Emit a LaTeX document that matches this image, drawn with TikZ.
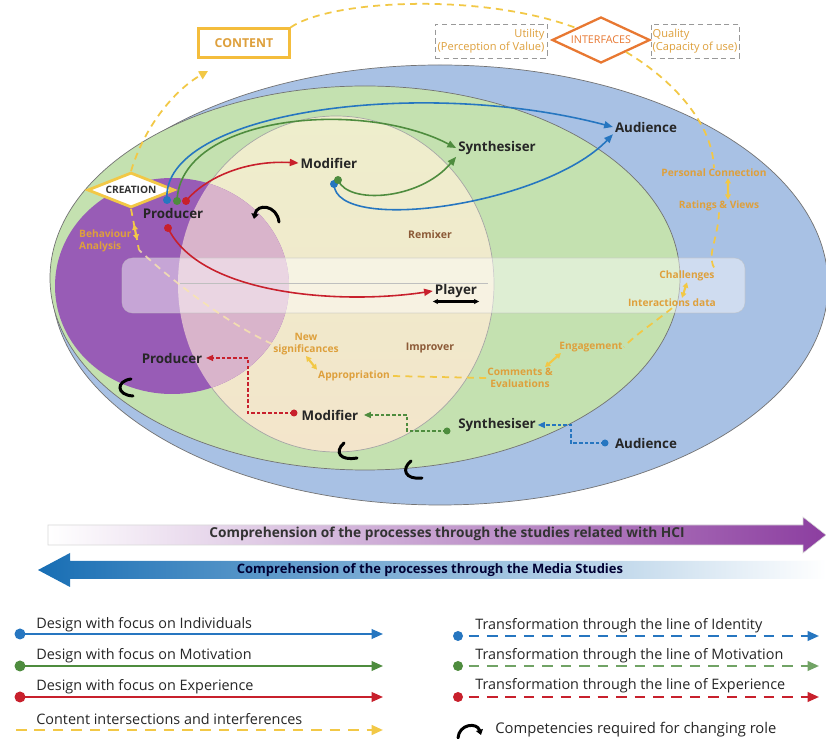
\documentclass[tikz,border=0pt]{standalone}
\usepackage{fontspec}
\setmainfont{Open Sans}
\usetikzlibrary{shapes.geometric,arrows.meta,calc}

\definecolor{bgblue}{RGB}{168,193,228}
\definecolor{bggreen}{RGB}{196,225,176}
\definecolor{bgyellow}{RGB}{238,238,204}
\definecolor{bgpeach}{RGB}{243,229,203}
\definecolor{bgpurple}{RGB}{152,92,182}
\definecolor{bgpink}{RGB}{217,180,203}
\definecolor{linkblue}{RGB}{38,118,192}
\definecolor{linkgreen}{RGB}{78,140,62}
\definecolor{linkred}{RGB}{200,32,44}
\definecolor{cueyellow}{RGB}{242,200,70}
\definecolor{cueorange}{RGB}{222,160,60}
\definecolor{ifaceorange}{RGB}{232,120,50}
\definecolor{rolebrown}{RGB}{140,90,55}
\definecolor{hcipurple}{RGB}{140,62,160}
\definecolor{mediablue}{RGB}{24,110,180}

\begin{document}
\begin{tikzpicture}[x=0.02cm, y=-0.02cm,
    role/.style={font=\fontsize{7.6}{9}\selectfont\bfseries, text=black!85, inner sep=1pt},
    cue/.style={font=\fontsize{5.8}{6.8}\selectfont\bfseries, text=cueorange, inner sep=0.5pt, align=center},
    area/.style={font=\fontsize{6}{7}\selectfont\bfseries, text=rolebrown},
    design/.style={line width=0.9pt, -{Triangle[length=5pt, width=4pt]}},
    transform/.style={line width=0.6pt, dash pattern=on 2pt off 1.2pt, -{Triangle[length=4pt, width=3.5pt]}},
    cdash/.style={cueyellow, line width=1pt, dash pattern=on 4pt off 3pt},
    cdbl/.style={cueyellow, line width=1.2pt, {Triangle[length=3pt, width=3.2pt]}-{Triangle[length=3pt, width=3.2pt]}},
    compmark/.style={line width=1.7pt, line cap=round},
    legline/.style={line width=1.1pt, -{Triangle[length=6.5pt, width=5.5pt]}},
    legdash/.style={line width=1.2pt, dash pattern=on 6pt off 4.5pt, -{Triangle[length=6.5pt, width=5.5pt]}},
    legtext/.style={font=\fontsize{8.2}{9.5}\selectfont, text=black!85, anchor=base west, inner sep=0pt},
    bigbar/.style={font=\fontsize{7.8}{9}\selectfont\bfseries, inner sep=0pt}
  ]
  \useasboundingbox (0,0) rectangle (826,739);
  \fill[white] (0,0) rectangle (826,739);

  % role spaces
  \fill[bgblue] (440,285) ellipse [x radius=388, y radius=220];
  \draw[black!55, line width=0.4pt] (440,285) ellipse [x radius=388, y radius=220];
  \fill[bggreen] (365,278) ellipse [x radius=315, y radius=192];
  \draw[black!55, line width=0.4pt] (365,278) ellipse [x radius=315, y radius=192];
  \shade[top color=bgyellow, bottom color=bgpeach] (336,284) ellipse [x radius=158, y radius=168];
  \draw[black!35, line width=0.4pt] (336,284) ellipse [x radius=158, y radius=168];
  \fill[bgpurple] (172,286) ellipse [x radius=117, y radius=108];
  \begin{scope}
    \clip (172,286) ellipse [x radius=117, y radius=108];
    \fill[bgpink] (336,284) ellipse [x radius=158, y radius=168];
  \end{scope}

  % player band
  \fill[white, fill opacity=0.45, rounded corners=6pt] (122,258) rectangle (745,313);
  \draw[white!75!black, line width=0.3pt, opacity=0.6, rounded corners=6pt] (122,258) rectangle (745,313);
  \draw[black!25, line width=0.4pt] (180,283) -- (488,283);

  % roles
  \node[role] (producer) at (173,213) {Producer};
  \node[role] (modifier) at (329,163) {Modifier};
  \node[role] (synth) at (497,148) {Synthesiser};
  \node[role] (audience) at (646,127) {Audience};
  \node[role] (player) at (456,291) {Player};
  \node[role] (producer2) at (172,358) {Producer};
  \node[role] (modifier2) at (330,415) {Modifier};
  \node[role] (synth2) at (497,425) {Synthesiser};
  \node[role] (audience2) at (646,443) {Audience};
  \node[area] (remixer) at (430,235) {Remixer};
  \node[area] (improver) at (430,348) {Improver};

  \draw[line width=1.5pt, {Stealth[length=3pt, width=3pt]}-{Stealth[length=3pt, width=3pt]}]
    ([yshift=-1pt]player.south west) -- ([yshift=-1pt]player.south east);

  % content and interfaces
  \node[draw=cueyellow!85!orange, line width=1.2pt, minimum width=1.82cm, minimum height=0.58cm, inner sep=0pt,
    text=cueorange, font=\fontsize{7}{8}\selectfont\bfseries] (content) at (244,43) {CONTENT};
  \node[diamond, aspect=2, draw=ifaceorange, line width=1.3pt, fill=white, minimum width=1.96cm, minimum height=0.92cm,
    inner sep=0pt, text=ifaceorange, font=\fontsize{6.1}{7}\selectfont] (interfaces) at (601,40) {INTERFACES};
  \node[draw=black!40, densely dashed, line width=0.4pt, minimum width=2.24cm, minimum height=0.68cm, inner sep=1pt,
    align=right, text=cueorange, font=\fontsize{6.3}{7.4}\selectfont] (utility) at (491,41) {Utility\\(Perception of Value)};
  \node[draw=black!40, densely dashed, line width=0.4pt, minimum width=1.7cm, minimum height=0.68cm, inner sep=1pt,
    align=left, text=cueorange, font=\fontsize{6.3}{7.4}\selectfont] (quality) at (695,41) {Quality\\(Capacity of use)};
  \node[diamond, aspect=2.5, draw=cueyellow, line width=1.6pt, fill=white, minimum width=1.74cm, minimum height=0.7cm,
    inner sep=0pt, text=black!80, font=\fontsize{5.8}{7}\selectfont\bfseries] (creation) at (131,190) {CREATION};

  % content cues
  \node[cue, align=left, anchor=west] (behaviour) at (78,241) {Behaviour\\Analysis};
  \node[cue] (persconn) at (714,173) {Personal Connection};
  \node[cue, below of=persconn, node distance=0.66cm, xshift=0.1cm] (ratings) {Ratings \& Views};
  \node[cue] (challenges) at (687,276) {Challenges};
  \node[cue, below of=challenges, node distance=0.54cm, xshift=-0.3cm] (interdata) {Interactions data};
  \node[cue] (engagement) at (591,347) {Engagement};
  \node[cue] (comments) at (520,378) {Comments \&\\Evaluations};
  \node[cue] (newsig) at (306,344) {New\\significances};
  \node[cue] (appropriation) at (354,376) {Appropriation};
  \coordinate (ctip) at (208,71);
  \coordinate (bfoot) at (139,250);

  \draw[cdash, -{Triangle[length=5pt, width=5pt]}] (creation.north) .. controls (146,122) and (178,88) .. (ctip);
  \draw[cdash] (content.north east) .. controls (330,0) and (480,-8) .. (interfaces.north west);
  \draw[cdash] (interfaces.south east) .. controls (665,75) and (712,118) .. (persconn.north);
  \draw[cdash] (ratings.south) .. controls (718,240) and (705,258) .. (challenges.north east);
  \draw[cdash] (interdata.south) .. controls (655,322) and (635,335) .. (engagement.east);
  \draw[cdash] (comments.west) -- (appropriation.east);
  \draw[cdash, white!55!cueyellow, opacity=0.8] (newsig.west) .. controls (220,320) and (160,270) .. (bfoot);
  \draw[cdash] (creation.south) -- (bfoot);
  \draw[cdbl] ($(creation.south)!0.38!(bfoot)$) -- ($(creation.south)!0.75!(bfoot)$);
  \draw[cdbl] ([xshift=0.28cm]persconn.south) -- ([xshift=0.18cm]ratings.north);
  \draw[cdbl] ([xshift=0.2cm]interdata.north) -- (challenges.south);
  \draw[cdbl] ([xshift=0.5cm]comments.north) -- ([xshift=-0.6cm]engagement.south);
  \draw[cdbl] (newsig.south) -- (appropriation.north west);

  % design lines
  \coordinate (pb) at (167,200);
  \coordinate (pg) at (177,201);
  \coordinate (pr) at (186,201);
  \coordinate (pr2) at (168,228);
  \coordinate (mb) at (334,184);
  \coordinate (mg) at (338,180);
  \draw[linkblue, design] (pb) .. controls (160,112) and (420,76) .. (audience.west);
  \draw[linkgreen, design] (pg) .. controls (180,116) and (360,98) .. (synth.west);
  \draw[linkred, design] (pr) .. controls (205,178) and (245,160) .. (modifier.west);
  \draw[linkred, design] (pr2) .. controls (200,295) and (340,305) .. (player.west);
  \draw[linkblue, design] (mb) .. controls (335,235) and (545,205) .. (audience.south west);
  \draw[linkgreen, design] (mg) .. controls (348,205) and (420,200) .. (synth.south west);
  \fill[linkblue] (pb) circle[radius=4];
  \fill[linkgreen] (pg) circle[radius=4];
  \fill[linkred] (pr) circle[radius=4];
  \fill[linkred] (pr2) circle[radius=4];
  \fill[linkblue] (mb) circle[radius=4];
  \fill[linkgreen] (mg) circle[radius=4];

  % transformation lines
  \coordinate (ad) at (605,443);
  \coordinate (sd) at (447,431);
  \coordinate (md) at (294,413);
  \draw[linkblue, transform] (ad) -- ++(-34,0) |- (synth2.east);
  \draw[linkgreen, transform] (sd) -- ++(-40,0) |- ([xshift=2pt]modifier2.east);
  \draw[linkred, transform] (md) -- ++(-46,0) |- ([xshift=1pt]producer2.east);
  \fill[linkblue] (ad) circle[radius=3.5];
  \fill[linkgreen] (sd) circle[radius=3.5];
  \fill[linkred] (md) circle[radius=3.5];

  % competencies
  \draw[compmark, -{Triangle[length=3pt, width=4pt]}] (279,222) .. controls (277,205) and (257,203) .. (254,219);
  \draw[compmark] (131,379) .. controls (116,381) and (116,395) .. (133,396);
  \draw[compmark] (344,443) .. controls (334,452) and (340,461) .. (357,458);
  \draw[compmark] (411,461) .. controls (401,469) and (405,480) .. (422,478);

  % comprehension bars
  \shade[left color=white, right color=hcipurple, draw=black!15, line width=0.3pt]
    (48,525) -- (803,525) -- (803,517) -- (826,535) -- (803,553) -- (803,545) -- (48,545) -- cycle;
  \node[bigbar, text=black!80] (hci) at (447,534) {Comprehension of the processes through the studies related with HCI};
  \shade[left color=mediablue, right color=white]
    (826,561) -- (70,561) -- (70,553) -- (38,570) -- (70,587) -- (70,579) -- (826,579) -- cycle;
  \node[bigbar, text=black!80!blue, font=\fontsize{7.4}{9}\selectfont\bfseries] (media) at (430,570) {Comprehension of the processes through the Media Studies};

  % legend
  \coordinate (li0) at (20,634); \coordinate (li1) at (383,634);
  \coordinate (lm0) at (20,666); \coordinate (lm1) at (383,666);
  \coordinate (le0) at (20,697); \coordinate (le1) at (383,697);
  \coordinate (lc0) at (16,730); \coordinate (lc1) at (383,730);
  \node[legtext] (litext) at (36,629) {Design with focus on Individuals};
  \node[legtext] (lmtext) at (36,660) {Design with focus on Motivation};
  \node[legtext] (letext) at (36,691) {Design with focus on Experience};
  \node[legtext] (lctext) at (36,725) {Content intersections and interferences};
  \draw[linkblue, legline] (li0) -- (li1);
  \draw[linkgreen, legline] (lm0) -- (lm1);
  \draw[linkred, legline] (le0) -- (le1);
  \draw[cueyellow, legdash, line width=1.3pt] (lc0) -- (lc1);
  \fill[linkblue] (li0) circle[radius=5.5];
  \fill[linkgreen] (lm0) circle[radius=5.5];
  \fill[linkred] (le0) circle[radius=5.5];

  \coordinate (ri0) at (458,636); \coordinate (ri1) at (819,636);
  \coordinate (rm0) at (458,666); \coordinate (rm1) at (819,666);
  \coordinate (re0) at (458,697); \coordinate (re1) at (819,697);
  \node[legtext] (ritext) at (475,630) {Transformation through the line of Identity};
  \node[legtext] (rmtext) at (475,660) {Transformation through the line of Motivation};
  \node[legtext] (retext) at (475,690) {Transformation through the line of Experience};
  \draw[linkblue, legdash] ([xshift=6pt]ri0) -- (ri1);
  \draw[linkgreen!80!white, legdash] ([xshift=6pt]rm0) -- (rm1);
  \draw[linkred, legdash] ([xshift=6pt]re0) -- (re1);
  \fill[linkblue] (ri0) circle[radius=5];
  \fill[linkgreen] (rm0) circle[radius=5];
  \fill[linkred] (re0) circle[radius=5];
  \draw[compmark, -{Triangle[length=3pt, width=4pt]}] (458,738) .. controls (459,724) and (477,722) .. (481,735);
  \node[legtext, font=\fontsize{8.4}{9.5}\selectfont] (comptext) at (495,734) {Competencies required for changing role};
\end{tikzpicture}
\end{document}
